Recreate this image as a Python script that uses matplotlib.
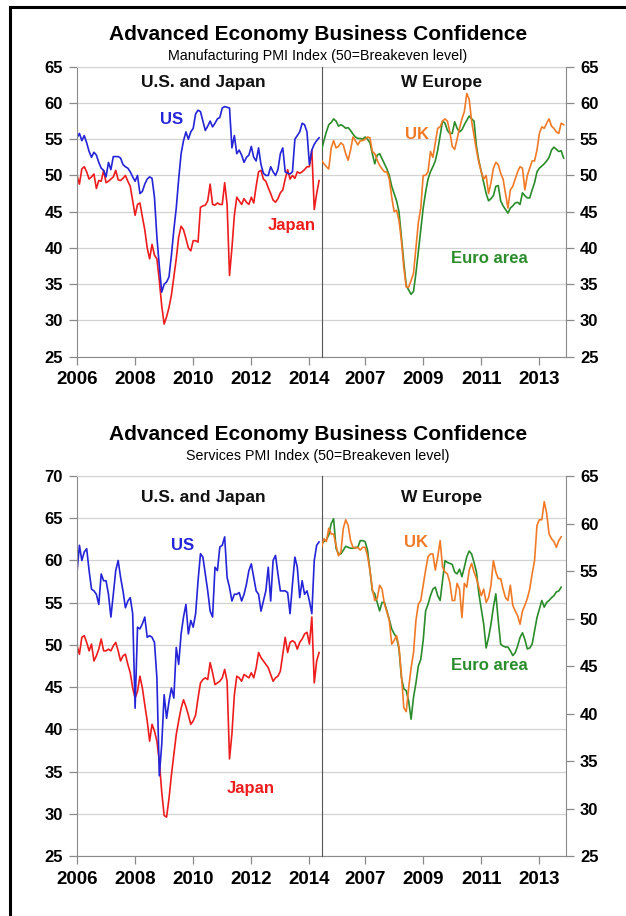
import numpy as np
import matplotlib
matplotlib.use("Agg")
import matplotlib.pyplot as plt
from matplotlib.lines import Line2D

plt.rcParams['font.family'] = ['Liberation Sans', 'DejaVu Sans']

# monthly PMI readings from Jan 2006
us_mfg = [55.2, 55.8, 54.8, 55.5, 54.5, 53.3, 52.5, 53.2, 52.8, 51.8, 51.0, 50.7,
          49.8, 51.8, 50.8, 52.6, 52.6, 52.6, 52.4, 51.5, 51.2, 51.0, 50.5, 49.8,
          49.2, 50.0, 47.5, 47.8, 48.8, 49.5, 49.8, 49.6, 47.0, 41.5, 37.5, 33.9,
          35.0, 35.3, 36.0, 39.0, 42.5, 45.5, 49.5, 53.0, 54.8, 56.0, 55.0, 56.0,
          56.5, 58.5, 59.0, 58.8, 57.5, 56.2, 56.8, 57.5, 56.7, 57.2, 57.8, 58.0,
          59.3, 59.5, 59.4, 59.3, 53.8, 55.5, 53.0, 53.5, 52.8, 51.8, 52.5, 52.8,
          54.0, 52.5, 52.0, 53.8, 51.5, 50.3, 50.0, 50.0, 51.2, 50.5, 50.0, 50.8,
          53.0, 53.8, 50.5, 50.3, 50.2, 50.5, 55.0, 55.5, 56.0, 57.2, 57.0, 56.0,
          51.5, 53.5, 54.3, 54.8, 55.2]
japan_mfg = [50.0, 48.8, 50.9, 51.2, 50.5, 49.5, 49.8, 50.2, 48.2, 49.3, 49.2, 50.7,
             49.0, 49.2, 49.5, 49.8, 50.7, 49.4, 49.3, 49.6, 50.0, 49.2, 48.5, 46.5,
             44.5, 46.0, 46.2, 44.3, 42.5, 40.0, 38.5, 40.5, 39.0, 38.5, 35.5, 32.0,
             29.5, 30.5, 31.8, 33.5, 36.0, 38.5, 41.5, 43.0, 42.5, 41.3, 40.0, 39.6,
             41.0, 41.0, 40.8, 45.6, 45.8, 45.9, 46.5, 48.8, 46.0, 45.9, 46.2, 46.0,
             46.0, 49.0, 46.0, 36.2, 40.0, 44.5, 47.0, 46.5, 46.0, 46.8, 46.3, 46.0,
             47.0, 46.2, 48.5, 50.5, 50.7, 49.5, 49.2, 48.3, 47.5, 46.6, 46.3, 46.8,
             47.6, 48.0, 49.5, 50.8, 49.5, 50.0, 49.6, 50.5, 50.3, 50.5, 50.8, 51.2,
             51.2, 53.5, 45.3, 47.5, 49.3]
uk_mfg = [52.1, 51.6, 51.2, 50.9, 53.8, 54.8, 53.8, 54.0, 54.5, 54.2, 53.0, 52.1,
          53.5, 55.3, 54.8, 54.2, 54.8, 54.8, 55.0, 55.3, 55.2, 53.3, 53.0, 52.1,
          51.4, 50.9, 50.5, 50.5, 49.5, 47.0, 45.0, 45.2, 43.8, 41.0, 37.3, 34.6,
          34.6, 35.5, 36.5, 40.0, 43.5, 45.5, 50.0, 50.0, 50.5, 53.3, 52.5, 54.5,
          56.5, 56.7, 57.5, 57.8, 57.5, 56.0, 54.0, 53.6, 55.0, 56.5, 57.8, 58.8,
          61.3, 60.5, 57.5, 55.5, 53.5, 51.8, 50.5, 49.5, 50.0, 47.5, 49.0, 51.0,
          51.8, 51.5, 50.3, 49.5, 47.5, 45.5, 48.0, 48.5, 49.5, 50.5, 51.2, 51.0,
          48.0, 50.0, 51.0, 52.0, 52.0, 53.5, 55.8, 56.7, 56.5, 57.2, 57.8, 56.8,
          56.5, 56.0, 55.8, 57.2, 57.0]
euro_mfg = [53.5, 54.8, 56.0, 57.0, 57.3, 57.8, 57.5, 56.8, 57.0, 56.8, 56.5, 56.6,
            56.2, 55.7, 55.3, 55.1, 55.1, 55.0, 55.3, 55.0, 54.5, 53.0, 51.6, 52.8,
            53.0, 52.3, 51.6, 50.9, 50.0, 48.5, 47.5, 46.5, 45.0, 41.5, 38.0, 34.8,
            34.2, 33.6, 34.0, 36.5, 39.5, 42.5, 45.5, 47.7, 49.5, 50.5, 51.2, 52.0,
            53.5, 55.5, 57.5, 57.2, 56.2, 55.8, 55.8, 57.4, 56.5, 56.0, 56.3, 57.0,
            57.6, 58.2, 57.8, 57.5, 54.0, 52.0, 50.5, 49.0, 47.5, 46.5, 46.8, 47.2,
            48.5, 48.6, 46.5, 45.8, 45.3, 44.8, 45.5, 45.8, 46.2, 46.3, 46.0, 47.6,
            47.2, 46.9, 46.9, 48.0, 49.0, 50.5, 51.0, 51.3, 51.6, 52.0, 52.5, 53.5,
            53.9, 53.6, 53.3, 53.4, 52.4]

us_srv = [58.6, 61.8, 60.0, 61.0, 61.4, 58.8, 56.6, 56.4, 56.0, 54.8, 58.4, 57.6,
          57.6, 56.0, 53.3, 56.0, 58.8, 60.0, 58.0, 56.4, 54.4, 55.2, 55.6, 53.7,
          42.5, 52.1, 51.9, 52.5, 53.3, 50.9, 51.1, 50.9, 50.3, 46.1, 34.5, 38.2,
          44.1, 41.3, 43.3, 44.9, 43.7, 49.7, 47.7, 51.3, 53.3, 54.8, 51.3, 52.9,
          52.1, 53.7, 57.6, 60.8, 60.4, 58.4, 56.4, 54.0, 53.3, 59.2, 58.8, 61.6,
          61.8, 62.8, 58.0, 56.8, 55.2, 56.0, 56.0, 56.2, 55.2, 56.0, 57.2, 58.8,
          59.6, 58.0, 56.4, 56.0, 54.0, 55.2, 56.4, 59.2, 55.2, 60.0, 60.6, 58.4,
          56.4, 56.4, 56.4, 56.2, 53.7, 57.2, 60.4, 59.2, 55.6, 57.6, 56.0, 56.4,
          55.2, 53.7, 60.0, 61.8, 62.2]
japan_srv = [49.9, 48.9, 50.9, 51.1, 50.3, 49.3, 50.1, 48.1, 48.7, 49.5, 50.7, 49.3,
             49.3, 49.5, 49.3, 49.9, 50.3, 49.3, 48.1, 48.7, 48.9, 47.7, 46.7, 44.9,
             43.7, 44.5, 46.3, 44.9, 42.9, 41.0, 38.6, 40.6, 39.8, 38.6, 36.2, 32.6,
             29.8, 29.6, 31.8, 34.6, 37.0, 39.4, 41.0, 42.5, 43.5, 42.7, 41.7, 40.6,
             41.0, 41.7, 43.7, 45.5, 45.9, 46.1, 45.9, 47.9, 46.7, 45.3, 45.5, 45.7,
             46.1, 47.1, 45.7, 36.5, 39.5, 44.1, 46.3, 46.1, 45.7, 46.5, 46.3, 46.1,
             46.7, 46.1, 47.3, 49.1, 48.5, 48.1, 47.7, 47.3, 46.5, 45.7, 46.1, 46.3,
             46.9, 48.9, 50.9, 49.1, 50.3, 50.5, 50.3, 49.5, 50.3, 50.7, 51.3, 51.5,
             50.1, 53.3, 45.5, 48.1, 49.1]
uk_srv = [57.5, 58.4, 58.1, 59.5, 58.9, 58.9, 57.7, 56.6, 57.0, 59.5, 60.4, 59.8,
          58.2, 57.5, 57.4, 57.5, 57.2, 57.5, 57.5, 56.6, 55.1, 53.1, 51.9, 52.1,
          53.5, 53.1, 51.5, 50.7, 49.8, 47.3, 47.7, 48.2, 47.0, 44.1, 40.6, 40.2,
          42.7, 44.8, 46.4, 49.8, 51.5, 51.9, 53.5, 55.1, 56.5, 56.8, 56.8, 55.1,
          56.5, 58.2, 55.4, 54.9, 54.7, 53.8, 51.9, 51.9, 53.7, 53.1, 50.1, 53.7,
          53.3, 55.1, 55.8, 54.9, 54.2, 53.3, 52.4, 53.1, 51.7, 52.2, 53.5, 56.1,
          54.9, 54.2, 54.2, 53.1, 52.2, 51.9, 53.5, 51.4, 50.8, 50.3, 49.4, 50.8,
          51.4, 52.1, 53.1, 54.7, 56.1, 59.8, 60.4, 60.4, 62.3, 61.1, 58.9, 58.4,
          58.1, 57.5, 58.2, 58.6]
euro_srv = [57.9, 58.1, 58.3, 58.8, 60.0, 60.5, 57.4, 56.8, 56.8, 57.2, 57.6, 57.5,
            57.4, 57.4, 57.5, 57.5, 58.2, 58.2, 58.1, 57.2, 55.1, 52.9, 52.6, 51.7,
            50.8, 51.7, 51.7, 50.8, 49.9, 48.9, 48.4, 48.0, 46.8, 43.8, 42.6, 42.4,
            41.3, 39.4, 41.7, 43.2, 45.0, 45.7, 47.7, 50.8, 51.5, 52.4, 53.1, 53.3,
            52.4, 51.9, 54.0, 56.1, 55.9, 55.8, 55.7, 54.9, 54.7, 55.2, 54.4, 55.4,
            56.5, 57.1, 56.8, 55.9, 54.9, 52.6, 51.0, 49.4, 46.9, 48.0, 49.4, 51.2,
            52.6, 49.8, 47.3, 47.1, 47.0, 47.0, 46.6, 46.1, 46.4, 47.1, 48.0, 48.5,
            47.8, 46.8, 46.9, 47.3, 48.7, 50.1, 51.0, 51.9, 51.2, 51.7, 51.9, 52.2,
            52.4, 52.8, 52.9, 53.3]

left_years = [2006, 2008, 2010, 2012, 2014]
right_years = [2007, 2009, 2011, 2013]

C_US = '#2424d8'
C_JP = '#ee1c1c'
C_UK = '#f07a26'
C_EU = '#2a8c2a'
GRID = '#d2d2d2'
AXIS = '#8a8a8a'


def months(vals):
    return 2006 + np.arange(len(vals)) / 12.0


def draw_chart(fig, bottom, height, left_top, title_y, subtitle,
               us, jp, uk, eu, lab):
    w = 0.3906
    xmax = 2006 + 101 / 12.0
    axl = fig.add_axes([0.123, bottom, w, height])
    axg = fig.add_axes([0.5136, bottom, w, height], sharey=axl)
    axr = axg.twinx()

    for ax in (axl, axg):
        ax.set_xlim(2006, xmax)
        ax.grid(axis='y', color=GRID, lw=0.9)
        ax.set_axisbelow(True)
        ax.spines['top'].set_color(GRID)
        ax.spines['bottom'].set_color(AXIS)
        ax.tick_params(axis='x', length=6, width=0.9, color=AXIS, pad=4.5,
                       labelsize=13.5)
    axl.set_ylim(25, left_top)
    axl.set_yticks(np.arange(25, left_top + 1, 5))
    axl.spines['left'].set_color(AXIS)
    axl.spines['right'].set_visible(False)
    axl.tick_params(axis='y', length=6, width=0.9, color=AXIS, pad=4,
                    labelsize=12)
    axl.set_xticks(left_years)
    axl.set_xticklabels([str(y) for y in left_years], fontweight='bold')
    for t in axl.get_yticklabels():
        t.set_fontweight('bold')

    # divider between the two panels
    axg.patch.set_visible(False)
    axg.spines['left'].set_color('#555555')
    axg.spines['left'].set_zorder(5)
    axg.spines['right'].set_visible(False)
    axg.tick_params(axis='y', left=False, labelleft=False)
    axg.set_xticks([y + 0.5 for y in right_years])
    axg.set_xticklabels([str(y) for y in right_years], fontweight='bold')

    axr.set_ylim(25, 65)
    axr.set_yticks(range(25, 66, 5))
    for s in ('left', 'top', 'bottom'):
        axr.spines[s].set_visible(False)
    axr.spines['right'].set_color(AXIS)
    axr.tick_params(axis='y', length=6, width=0.9, color=AXIS, pad=4,
                    labelsize=12)
    for t in axr.get_yticklabels():
        t.set_fontweight('bold')

    lw = 1.2
    axl.plot(months(jp), jp, color=C_JP, lw=lw)
    axl.plot(months(us), us, color=C_US, lw=lw)
    axr.plot(months(eu), eu, color=C_EU, lw=lw)
    axr.plot(months(uk), uk, color=C_UK, lw=lw)

    bold = dict(ha='center', va='center', fontweight='bold')
    axl.text(0.515, 0.944, 'U.S. and Japan', transform=axl.transAxes,
             fontsize=12.5, color='#111111', **bold)
    axg.text(0.49, 0.944, 'W Europe', transform=axg.transAxes,
             fontsize=12.5, color='#111111', **bold)
    axl.text(*lab['US'], 'US', color=C_US, fontsize=12, **bold)
    axl.text(*lab['Japan'], 'Japan', color=C_JP, fontsize=12, **bold)
    axr.text(*lab['UK'], 'UK', color=C_UK, fontsize=12, **bold)
    axr.text(*lab['Euro area'], 'Euro area', color=C_EU, fontsize=12, **bold)

    fig.text(0.508, 1 - title_y / 916, 'Advanced Economy Business Confidence',
             ha='center', va='center', fontsize=15, fontweight='bold')
    fig.text(0.508, 1 - (title_y + 21) / 916, subtitle,
             ha='center', va='center', fontsize=10.3)


fig = plt.figure(figsize=(6.26, 9.16), dpi=100)

draw_chart(fig, 0.6106, 0.3166, 65, 35,
           'Manufacturing PMI Index (50=Breakeven level)',
           us_mfg, japan_mfg, uk_mfg, euro_mfg,
           {'US': (2009.24, 57.7), 'Japan': (2013.4, 43.1),
            'UK': (2009.27, 55.6), 'Euro area': (2011.77, 38.6)})

draw_chart(fig, 0.0655, 0.4148, 70, 435,
           'Services PMI Index (50=Breakeven level)',
           us_srv, japan_srv, uk_srv, euro_srv,
           {'US': (2009.62, 61.8), 'Japan': (2011.97, 33.0),
            'UK': (2009.25, 58.0), 'Euro area': (2011.77, 45.1)})

# page frame: thick black rule on the left and top
fig.add_artist(Line2D([0.016, 0.016], [0, 0.9924], color='black', lw=2.2,
                      transform=fig.transFigure))
fig.add_artist(Line2D([0.016, 1.0], [0.9924, 0.9924], color='black', lw=2.2,
                      transform=fig.transFigure))

fig.savefig('out.png', dpi=100)
